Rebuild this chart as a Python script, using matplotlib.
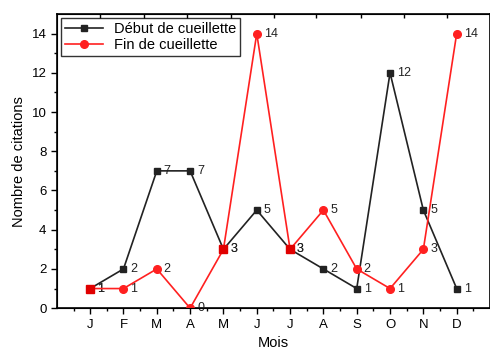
import numpy as np
import matplotlib.pyplot as plt

plt.rcParams['font.family'] = ['Liberation Sans', 'DejaVu Sans']

mois = ['J', 'F', 'M', 'A', 'M', 'J', 'J', 'A', 'S', 'O', 'N', 'D']
debut = [1, 2, 7, 7, 3, 5, 3, 2, 1, 12, 5, 1]
fin = [1, 1, 2, 0, 3, 14, 3, 5, 2, 1, 3, 14]

x = np.arange(1, len(mois) + 1)

fig = plt.figure(figsize=(4.9, 3.49), dpi=100)
ax = fig.add_axes([0.116, 0.117, 0.884, 0.843])

ax.plot(x, debut, '-s', color='#222222', lw=1.2, ms=5, label='Début de cueillette', zorder=3)
ax.plot(x, fin, '-o', color='#ff2020', lw=1.2, ms=5.5, label='Fin de cueillette', zorder=4)

# points communs : carré rouge
d = np.array(debut)
f = np.array(fin)
same = d == f
ax.plot(x[same], d[same], 's', color='#e00000', ms=5.5, zorder=5)

for xi, v in zip(x, debut):
    ax.annotate(str(v), (xi, v), xytext=(5, 0), textcoords='offset points',
                va='center', ha='left', fontsize=9, color='#222222', annotation_clip=False)
for xi, v in zip(x, fin):
    ax.annotate(str(v), (xi, v), xytext=(5, 0), textcoords='offset points',
                va='center', ha='left', fontsize=9, color='#222222', annotation_clip=False)

ax.set_xlim(0, 13)
ax.set_ylim(0, 15)
ax.set_xticks(x)
ax.set_xticklabels(mois, fontsize=9.5)
ax.set_xticks(np.arange(0.5, 13, 1), minor=True)
ax.set_yticks(np.arange(0, 15, 2))
ax.set_yticks(np.arange(1, 15, 2), minor=True)
ax.tick_params(axis='y', labelsize=9.5)
ax.tick_params(which='major', direction='out', length=4, width=1)
ax.tick_params(which='minor', direction='out', length=2.5, width=1)
for s in ax.spines.values():
    s.set_linewidth(1.2)

# axe du haut (graduations seules)
top = ax.twiny()
top.set_xlim(0, 13)
top.set_xticks([1.29, 2.63, 3.92, 5.24, 6.53, 7.78, 9.13, 10.42, 11.71])
top.set_xticklabels([])
top.tick_params(direction='in', length=3, width=1)

ax.set_xlabel('Mois', fontsize=10.5, labelpad=4)
ax.set_ylabel('Nombre de citations', fontsize=10.5)

leg = ax.legend(loc='upper left', fontsize=10.5, frameon=True, fancybox=False,
                edgecolor='black', borderpad=0.25, labelspacing=0.15,
                handlelength=2.6, borderaxespad=0.3)
leg.get_frame().set_linewidth(1.0)

fig.savefig('out.png', dpi=100)
